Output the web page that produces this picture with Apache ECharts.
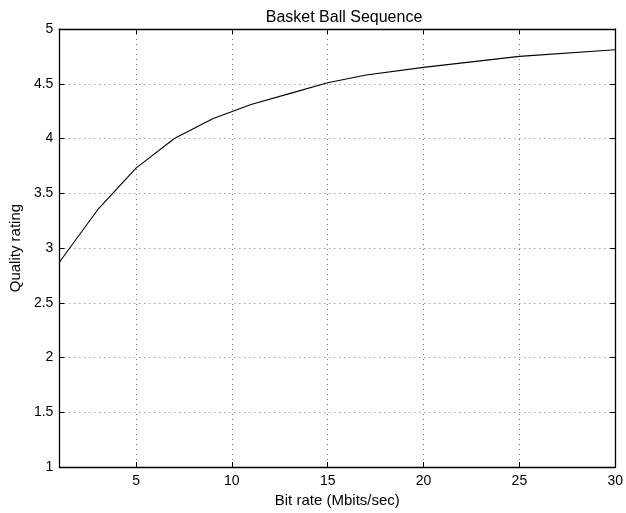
<!DOCTYPE html>
<html>
<head>
<meta charset="utf-8">
<script src="https://cdn.jsdelivr.net/npm/echarts@6/dist/echarts.min.js"></script>
<style>
  html, body { margin: 0; padding: 0; background: #fff; }
  #chart { width: 626px; height: 513px; }
</style>
</head>
<body>
<div id="chart"></div>
<script>
// Bit rate (Mbits/sec) and the corresponding quality rating
const bitRates = [1, 3, 5, 7, 9, 11, 13, 15, 17, 20, 25, 30];
const quality = [2.87, 3.35, 3.73, 4.0, 4.18, 4.31, 4.41, 4.51, 4.58, 4.65, 4.75, 4.81];

// Tick positions along the bit-rate axis
const xTicks = [5, 10, 15, 20, 25, 30];

const FONT = 'Liberation Sans, Arial, Helvetica, sans-serif';

const chart = echarts.init(document.getElementById('chart'), null, { renderer: 'canvas' });

const gridDots = { show: true, lineStyle: { color: '#777', width: 1, type: [1, 4] } };

const baseX = {
  type: 'value', min: 1, max: 30,
  axisLine: { show: true, lineStyle: { color: '#000', width: 1.3 } },
  axisTick: { show: true, inside: true, length: 5, customValues: xTicks, lineStyle: { color: '#000' } },
  axisLabel: { customValues: xTicks }
};

const baseY = {
  type: 'value', min: 1, max: 5, interval: 0.5,
  axisLine: { show: true, lineStyle: { color: '#000', width: 1.3 } },
  axisTick: { show: true, inside: true, length: 5, lineStyle: { color: '#000' } }
};

chart.setOption({
  animation: false,
  backgroundColor: '#fff',
  title: {
    text: 'Basket Ball Sequence', left: 339, top: 5, textAlign: 'center',
    textStyle: { fontFamily: FONT, fontSize: 16, fontWeight: 'normal', color: '#000' }
  },
  grid: { left: 51, right: 8, top: 29, bottom: 40 },
  xAxis: [
    Object.assign({}, baseX, {
      position: 'bottom',
      name: 'Bit rate (Mbits/sec)', nameLocation: 'middle', nameGap: 21,
      nameTextStyle: { fontFamily: FONT, fontSize: 15, color: '#000', verticalAlign: 'top' },
      axisLabel: { customValues: xTicks, fontFamily: FONT, fontSize: 14, color: '#000', margin: 7 },
      splitLine: gridDots
    }),
    Object.assign({}, baseX, {
      position: 'top',
      axisLabel: { show: false },
      splitLine: { show: false }
    })
  ],
  yAxis: [
    Object.assign({}, baseY, {
      position: 'left',
      name: 'Quality rating', nameLocation: 'middle', nameGap: 29,
      nameTextStyle: { fontFamily: FONT, fontSize: 15, color: '#000' },
      axisLabel: { fontFamily: FONT, fontSize: 14, color: '#000', margin: 6 },
      splitLine: gridDots
    }),
    Object.assign({}, baseY, {
      position: 'right',
      axisLabel: { show: false },
      splitLine: { show: false }
    })
  ],
  series: [{
    type: 'line',
    data: bitRates.map((b, i) => [b, quality[i]]),
    showSymbol: false,
    lineStyle: { color: '#000', width: 1.1 },
    xAxisIndex: 0, yAxisIndex: 0
  }]
});
</script>
</body>
</html>
